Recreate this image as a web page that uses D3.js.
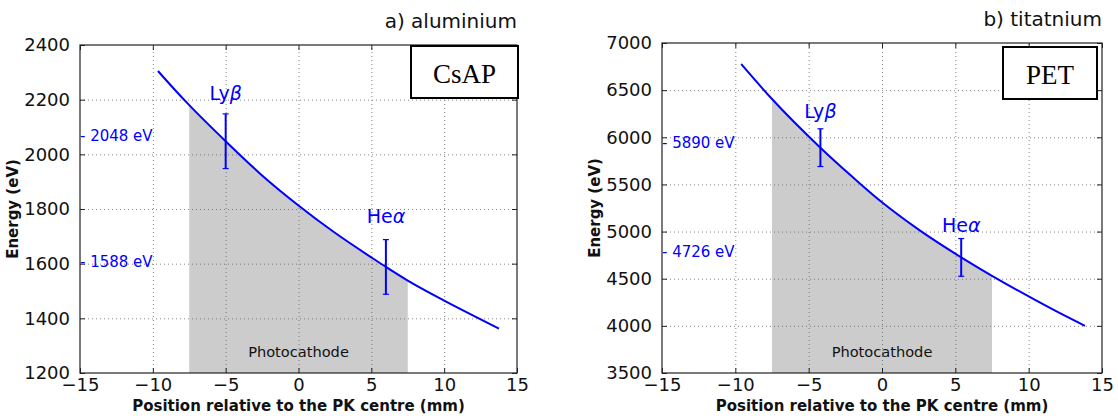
<!DOCTYPE html>
<html>
<head>
<meta charset="utf-8">
<script src="https://cdn.jsdelivr.net/npm/d3@7"></script>
<style>
  html, body { margin: 0; padding: 0; background: #fff; }
  svg { display: block; }
  text { font-family: "DejaVu Sans", sans-serif; }
</style>
</head>
<body>
<svg id="chart" width="1118" height="416"></svg>
<script>
// ---------- data ----------
const xTicks = [-15, -10, -5, 0, 5, 10, 15];

// a) aluminium, CsAP crystal
const positionAl = [-9.65, -8, -7.5, -5, -2.5, 0, 2.5, 5, 6, 7.5, 10, 12, 13.76];
const energyAl   = [2305, 2208, 2180, 2048, 1923, 1813, 1713, 1623, 1588, 1538, 1465, 1410, 1362];
const yTicksAl   = [1200, 1400, 1600, 1800, 2000, 2200, 2400];
const lineNamesAl = ["Ly", "He"];
const lineGreekAl = ["β", "α"];
const linePosAl   = [-5, 6];
const lineEnergyAl = [2048, 1588];
const lineErrAl   = [100, 100];
const labelEnergyAl = [2200, 1750];

// b) titanium, PET crystal
const positionTi = [-9.6, -7.5, -4.2, -2, 0, 2.5, 5.4, 7.5, 10, 12, 13.84];
const energyTi   = [6777, 6406, 5890, 5578, 5310, 5020, 4726, 4530, 4312, 4145, 4000];
const yTicksTi   = [3500, 4000, 4500, 5000, 5500, 6000, 6500, 7000];
const lineNamesTi = ["Ly", "He"];
const lineGreekTi = ["β", "α"];
const linePosTi   = [-4.2, 5.4];
const lineEnergyTi = [5890, 4726];
const lineErrTi   = [200, 200];
const labelEnergyTi = [6200, 5000];

const photocathode = [-7.5, 7.5];

// ---------- panels ----------
const panels = [
  { left: 80, right: 517, top: 45, bottom: 373,
    title: "a) aluminium", crystal: "CsAP",
    box: [411, 46, 518, 98],
    pos: positionAl, en: energyAl, yTicks: yTicksAl,
    names: lineNamesAl, greek: lineGreekAl, lx: linePosAl, le: lineEnergyAl, err: lineErrAl, labE: labelEnergyAl },
  { left: 662, right: 1102, top: 43, bottom: 373,
    title: "b) titatnium", crystal: "PET",
    box: [1003, 47, 1097, 99],
    pos: positionTi, en: energyTi, yTicks: yTicksTi,
    names: lineNamesTi, greek: lineGreekTi, lx: linePosTi, le: lineEnergyTi, err: lineErrTi, labE: labelEnergyTi }
];

const svg = d3.select("#chart");
const blue = "#0000ff";

panels.forEach(p => {
  const x = d3.scaleLinear().domain([xTicks[0], xTicks[xTicks.length - 1]]).range([p.left, p.right]);
  const y = d3.scaleLinear().domain([p.yTicks[0], p.yTicks[p.yTicks.length - 1]]).range([p.bottom, p.top]);
  const g = svg.append("g");
  const pts = p.pos.map((v, i) => [v, p.en[i]]);

  // photocathode fill
  const inside = pts.filter(d => d[0] >= photocathode[0] && d[0] <= photocathode[1]);
  g.append("path")
    .datum(inside)
    .attr("d", d3.area().x(d => x(d[0])).y0(y(p.yTicks[0])).y1(d => y(d[1])).curve(d3.curveMonotoneX))
    .attr("fill", "#cccccc");

  // grid
  const gridX = g.append("g").attr("transform", `translate(0,${p.bottom})`)
    .call(d3.axisBottom(x).tickValues(xTicks.slice(1, -1)).tickSize(-(p.bottom - p.top)).tickFormat(""));
  const gridY = g.append("g").attr("transform", `translate(${p.left},0)`)
    .call(d3.axisLeft(y).tickValues(p.yTicks.slice(1, -1)).tickSize(-(p.right - p.left)).tickFormat(""));
  [gridX, gridY].forEach(gg => {
    gg.select(".domain").remove();
    gg.selectAll("line").attr("stroke", "#666").attr("stroke-width", 0.8).attr("stroke-dasharray", "1,3");
  });

  // curve
  g.append("path")
    .datum(pts)
    .attr("d", d3.line().x(d => x(d[0])).y(d => y(d[1])).curve(d3.curveMonotoneX))
    .attr("fill", "none").attr("stroke", blue).attr("stroke-width", 2);

  // error bars + labels
  p.lx.forEach((lx, i) => {
    const cx = x(lx);
    const y1 = y(p.le[i] + p.err[i]), y2 = y(p.le[i] - p.err[i]);
    g.append("line").attr("x1", cx).attr("x2", cx).attr("y1", y1).attr("y2", y2)
      .attr("stroke", blue).attr("stroke-width", 2);
    [y1, y2].forEach(yy => g.append("line").attr("x1", cx - 3).attr("x2", cx + 3).attr("y1", yy).attr("y2", yy)
      .attr("stroke", blue).attr("stroke-width", 1.2));
    const t = g.append("text").attr("x", cx).attr("y", y(p.labE[i]))
      .attr("text-anchor", "middle").attr("fill", blue).style("font-size", "19px");
    t.append("tspan").text(p.names[i]);
    t.append("tspan").text(p.greek[i]).style("font-style", "italic");
    // energy annotation at left axis
    g.append("text").attr("x", p.left).attr("y", y(p.le[i]))
      .attr("fill", blue).style("font-size", "15px")
      .text(`- ${p.le[i]} eV`);
  });

  // photocathode label
  g.append("text").attr("x", x(0)).attr("y", p.bottom - 16)
    .attr("text-anchor", "middle").attr("fill", "#111").style("font-size", "14.6px")
    .text("Photocathode");

  // axes frame
  g.append("rect").attr("x", p.left).attr("y", p.top)
    .attr("width", p.right - p.left).attr("height", p.bottom - p.top)
    .attr("fill", "none").attr("stroke", "#222").attr("stroke-width", 1.2);

  // inward ticks
  const ax = [
    g.append("g").attr("transform", `translate(0,${p.bottom})`).call(d3.axisBottom(x).tickValues(xTicks).tickSizeInner(-5).tickSizeOuter(0).tickPadding(5).tickFormat(d => d < 0 ? "\u2212" + Math.abs(d) : d)),
    g.append("g").attr("transform", `translate(0,${p.top})`).call(d3.axisTop(x).tickValues(xTicks).tickSizeInner(-5).tickSizeOuter(0).tickFormat("")),
    g.append("g").attr("transform", `translate(${p.left},0)`).call(d3.axisLeft(y).tickValues(p.yTicks).tickSizeInner(-5).tickSizeOuter(0).tickPadding(10).tickFormat(d3.format("d"))),
    g.append("g").attr("transform", `translate(${p.right},0)`).call(d3.axisRight(y).tickValues(p.yTicks).tickSizeInner(-5).tickSizeOuter(0).tickFormat(""))
  ];
  ax.forEach(a => {
    a.select(".domain").remove();
    a.selectAll("line").attr("stroke", "#222").attr("stroke-width", 1);
    a.selectAll("text").attr("fill", "#111").style("font-size", "18px").style("font-family", "DejaVu Sans");
  });

  // axis labels
  g.append("text").attr("x", (p.left + p.right) / 2).attr("y", 411)
    .attr("text-anchor", "middle").style("font-size", "15px").style("font-weight", "bold").attr("fill", "#111")
    .text("Position relative to the PK centre (mm)");
  g.append("text").attr("transform", `translate(${p.left - 62},${(p.top + p.bottom) / 2}) rotate(-90)`)
    .attr("text-anchor", "middle").style("font-size", "15px").style("font-weight", "bold").attr("fill", "#111")
    .text("Energy (eV)");

  // title
  g.append("text").attr("x", p.right).attr("y", p.top - 17)
    .attr("text-anchor", "end").style("font-size", "20px").attr("fill", "#111")
    .text(p.title);

  // crystal box
  const [bx0, by0, bx1, by1] = p.box;
  g.append("rect").attr("x", bx0).attr("y", by0).attr("width", bx1 - bx0).attr("height", by1 - by0)
    .attr("fill", "#fff").attr("stroke", "#000").attr("stroke-width", 2);
  g.append("text").attr("x", (bx0 + bx1) / 2).attr("y", by0 + 37)
    .attr("text-anchor", "middle").style("font-family", "Liberation Serif, serif").style("font-size", "27px").attr("fill", "#000")
    .text(p.crystal);
});
</script>
</body>
</html>
